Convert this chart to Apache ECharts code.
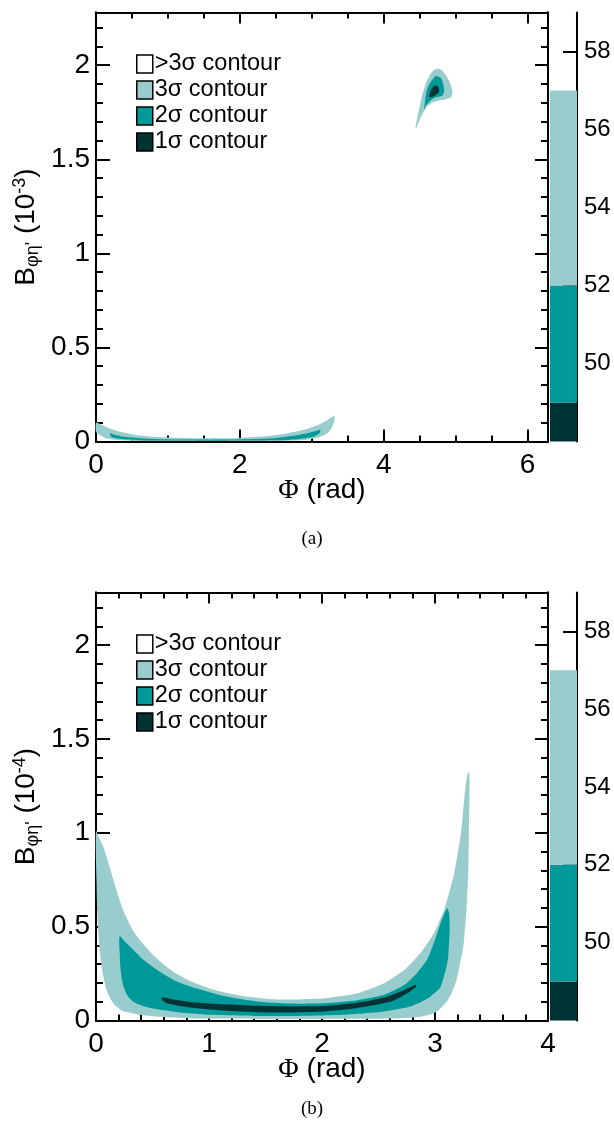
<!DOCTYPE html>
<html><head><meta charset="utf-8">
<script src="https://cdn.jsdelivr.net/npm/echarts@6/dist/echarts.min.js"></script>
<style>html,body{margin:0;padding:0;background:#fff}#c{width:614px;height:1128px}</style>
</head><body><div id="c"></div>
<script>
// ---------------- data ----------------
const legendNames = ['>3σ contour', '3σ contour', '2σ contour', '1σ contour'];
const colWhite = '#ffffff', colLight = '#99cccc', colTeal = '#009999', colDark = '#003333';

// colour bar bands: [lower, upper]
const cbLower = [48, 49, 52];
const cbUpper = [49, 52, 57];
const cbMin = 48, cbMax = 59;
const cbTicks = [50, 52, 54, 56, 58];

// axis ticks
const xMaxA = 6.2832;
const xTicksA = [0, 2, 4, 6];
const xMinorA = [0.5, 1, 1.5, 2.5, 3, 3.5, 4.5, 5, 5.5];
const xMaxB = 4;
const xTicksB = [0, 1, 2, 3, 4];
const xMinorB = [0.2, 0.4, 0.6, 0.8, 1.2, 1.4, 1.6, 1.8, 2.2, 2.4, 2.6, 2.8, 3.2, 3.4, 3.6, 3.8];
const yMax = 2.28;
const yTicks = [0, 0.5, 1, 1.5, 2];
const yMinor = [0.1, 0.2, 0.3, 0.4, 0.6, 0.7, 0.8, 0.9, 1.1, 1.2, 1.3, 1.4, 1.6, 1.7, 1.8, 1.9, 2.1, 2.2];

// (a) contours, x in rad, y in 1e-3
const lightPeakA = [[4.44,1.665],[4.47,1.73],[4.50,1.78],[4.535,1.84],[4.57,1.885],[4.61,1.925],[4.64,1.948],[4.69,1.972],[4.73,1.98],[4.77,1.98],[4.80,1.975],[4.84,1.96],[4.87,1.942],[4.905,1.92],[4.93,1.897],[4.95,1.87],[4.955,1.845],[4.93,1.828],[4.85,1.818],[4.76,1.812],[4.66,1.798],[4.6,1.78],[4.57,1.762],[4.53,1.735],[4.50,1.71],[4.47,1.685],[4.455,1.668]];
const tealPeakA = [[4.56,1.765],[4.575,1.81],[4.59,1.853],[4.62,1.89],[4.66,1.915],[4.70,1.935],[4.73,1.942],[4.79,1.933],[4.815,1.915],[4.83,1.895],[4.84,1.862],[4.82,1.842],[4.80,1.836],[4.71,1.827],[4.66,1.815],[4.62,1.80],[4.58,1.78]];
const darkPeakA = [[4.63,1.832],[4.645,1.855],[4.66,1.871],[4.69,1.888],[4.71,1.892],[4.745,1.89],[4.76,1.885],[4.772,1.862],[4.75,1.848],[4.73,1.844],[4.67,1.83]];
const lightBandA = [[0,0.1],[0.08,0.088],[0.2,0.068],[0.35,0.05],[0.55,0.035],[0.8,0.025],[1.2,0.019],[1.6,0.017],[2.0,0.019],[2.3,0.026],[2.55,0.036],[2.75,0.05],[2.95,0.068],[3.1,0.09],[3.2,0.11],[3.28,0.13],[3.315,0.138],[3.31,0.105],[3.28,0.075],[3.22,0.045],[3.1,0.022],[2.9,0.008],[2.6,0.003],[1.6,0.002],[0.6,0.003],[0.3,0.007],[0.15,0.016],[0.05,0.035],[0,0.05]];
const tealBandA = [[0.19,0.045],[0.25,0.036],[0.4,0.025],[0.6,0.017],[0.9,0.012],[1.3,0.01],[1.8,0.01],[2.2,0.013],[2.5,0.019],[2.75,0.03],[2.95,0.045],[3.08,0.058],[3.12,0.062],[3.11,0.045],[3.02,0.025],[2.8,0.012],[2.5,0.006],[1.8,0.004],[1.0,0.005],[0.6,0.007],[0.35,0.013],[0.22,0.022],[0.2,0.035]];

// (b) contours, x in rad, y in 1e-4
const lightB = [[0,1.01],[0.03,0.97],[0.065,0.926],[0.124,0.81],[0.183,0.69],[0.242,0.585],[0.331,0.475],[0.42,0.405],[0.538,0.33],[0.686,0.258],[0.834,0.21],[1.0,0.172],[1.13,0.15],[1.3,0.13],[1.425,0.121],[1.6,0.112],[1.8,0.112],[2.02,0.118],[2.31,0.145],[2.55,0.199],[2.73,0.27],[2.87,0.358],[2.99,0.465],[3.08,0.589],[3.17,0.784],[3.23,1.0],[3.27,1.245],[3.29,1.316],[3.305,1.32],[3.305,1.2],[3.30,1.0],[3.295,0.8],[3.28,0.6],[3.26,0.45],[3.25,0.39],[3.22,0.3],[3.19,0.216],[3.15,0.15],[3.11,0.106],[3.05,0.065],[2.99,0.039],[2.85,0.018],[2.6,0.01],[2.0,0.008],[1.4,0.008],[0.9,0.01],[0.54,0.02],[0.39,0.03],[0.24,0.05],[0.17,0.08],[0.124,0.12],[0.09,0.17],[0.06,0.25],[0.035,0.36],[0.02,0.48],[0.01,0.6],[0.004,0.75],[0,0.85]];
const tealB = [[0.21,0.45],[0.242,0.429],[0.331,0.376],[0.42,0.323],[0.538,0.27],[0.686,0.216],[0.834,0.181],[1.0,0.152],[1.13,0.13],[1.3,0.112],[1.5,0.097],[1.72,0.09],[2.02,0.092],[2.31,0.108],[2.55,0.137],[2.73,0.19],[2.84,0.252],[2.93,0.323],[3.0,0.43],[3.05,0.518],[3.09,0.58],[3.11,0.598],[3.125,0.57],[3.13,0.5],[3.125,0.42],[3.115,0.33],[3.095,0.27],[3.07,0.216],[3.04,0.17],[2.96,0.128],[2.88,0.1],[2.78,0.074],[2.62,0.055],[2.46,0.042],[2.2,0.03],[1.8,0.024],[1.4,0.024],[1.0,0.03],[0.83,0.038],[0.6,0.055],[0.47,0.068],[0.38,0.085],[0.33,0.1],[0.28,0.13],[0.25,0.17],[0.23,0.216],[0.215,0.29],[0.21,0.36],[0.205,0.42]];
const darkB = [[0.583,0.124],[0.7,0.11],[0.834,0.099],[1.13,0.086],[1.425,0.078],[1.72,0.075],[2.016,0.077],[2.31,0.094],[2.55,0.122],[2.73,0.163],[2.83,0.19],[2.835,0.181],[2.755,0.145],[2.61,0.101],[2.31,0.066],[2.016,0.048],[1.72,0.043],[1.425,0.044],[1.13,0.053],[0.834,0.069],[0.627,0.092],[0.583,0.11]];

// ---------------- chart ----------------
const FONT = "'Liberation Sans', Arial, Helvetica, sans-serif";
const BLACK = '#000';
const FS = 28;

function xAx(gi, pos, max, ticks, len, labels, name) {
  return {
    type: 'value', gridIndex: gi, position: pos, min: 0, max: max,
    axisLine: {show: true, onZero: false, lineStyle: {color: BLACK, width: 2}},
    axisTick: {show: true, inside: true, length: len, customValues: ticks, lineStyle: {color: BLACK, width: 2}},
    axisLabel: labels ? {show: true, customValues: ticks, fontSize: FS, color: BLACK, fontFamily: FONT, margin: 10} : {show: false},
    splitLine: {show: false}, minorTick: {show: false},
    name: name ? '{phi|Φ} (rad)' : '', nameLocation: 'middle', nameGap: 35, nameMoveOverlap: false,
    nameTextStyle: {fontSize: FS, color: BLACK, fontFamily: FONT,
      rich: {phi: {fontSize: FS, fontFamily: "'Liberation Serif', serif", color: BLACK}}}
  };
}
function yAx(gi, pos, ticks, len, labels, exp) {
  return {
    type: 'value', gridIndex: gi, position: pos, min: 0, max: yMax,
    axisLine: {show: true, onZero: false, lineStyle: {color: BLACK, width: 2}},
    axisTick: {show: true, inside: true, length: len, customValues: ticks, lineStyle: {color: BLACK, width: 2}},
    axisLabel: labels ? {show: true, customValues: ticks, fontSize: FS, color: BLACK, fontFamily: FONT, margin: 6} : {show: false},
    splitLine: {show: false}, minorTick: {show: false},
    name: exp ? '{b|B}{s|φη\'}{b| (10}{p|' + exp + '}{b|)}' : '',
    nameLocation: 'middle', nameRotate: 90, nameGap: 54, nameMoveOverlap: false,
    nameTextStyle: {color: BLACK, fontFamily: FONT, rich: {
      b: {fontSize: FS, color: BLACK, fontFamily: FONT},
      s: {fontSize: 18, color: BLACK, fontFamily: FONT, padding: [13, 0, 0, 0]},
      p: {fontSize: 18, color: BLACK, fontFamily: FONT, padding: [0, 0, 13, 0]}
    }}
  };
}
function cbY(gi) {
  return {
    type: 'value', gridIndex: gi, position: 'right', min: cbMin, max: cbMax,
    axisLine: {show: true, onZero: false, lineStyle: {color: BLACK, width: 2}},
    axisTick: {show: true, inside: true, length: 14, customValues: cbTicks, lineStyle: {color: BLACK, width: 2}},
    axisLabel: {show: true, customValues: cbTicks, fontSize: 24, color: BLACK, fontFamily: FONT, margin: 7},
    splitLine: {show: false}
  };
}
function cbX(gi) {
  return {type: 'value', gridIndex: gi, min: 0, max: 1, show: false, axisLine: {onZero: false}};
}

function poly(name, pts, color, xi, yi) {
  return {
    type: 'custom', name: name, coordinateSystem: 'cartesian2d', xAxisIndex: xi, yAxisIndex: yi,
    data: pts, itemStyle: {color: color}, silent: true, animation: false,
    renderItem: function (params, api) {
      if (params.dataIndex !== 0) return null;
      const points = pts.map(function (p) { return api.coord(p); });
      return {type: 'polygon', shape: {points: points, smooth: 0.2}, style: {fill: color}};
    }
  };
}
function colorBar(xi, yi) {
  const colors = [colDark, colTeal, colLight];
  const data = cbLower.map(function (lo, i) { return [lo, cbUpper[i]]; });
  return {
    type: 'custom', coordinateSystem: 'cartesian2d', xAxisIndex: xi, yAxisIndex: yi, silent: true,
    data: data, animation: false,
    renderItem: function (params, api) {
      const p0 = api.coord([0, api.value(0)]);
      const p1 = api.coord([1, api.value(1)]);
      return {type: 'rect', shape: {x: p0[0], y: p1[1], width: p1[0] - p0[0], height: p0[1] - p1[1]},
        style: {fill: colors[params.dataIndex]}};
    }
  };
}

const gA = {left: 96, top: 12.5, width: 452, height: 429};
const gB = {left: 96, top: 592.5, width: 452, height: 428};

function legend(top) {
  return {
    data: legendNames, orient: 'vertical', left: 136, top: top, padding: 0,
    itemWidth: 16, itemHeight: 18, itemGap: 2, icon: 'rect', selectedMode: false,
    itemStyle: {borderColor: BLACK, borderWidth: 1.5},
    textStyle: {fontSize: 23.5, color: BLACK, fontFamily: FONT, padding: [0, 0, 0, -3]}
  };
}

const option = {
  animation: false,
  backgroundColor: '#fff',
  title: [
    {text: '(a)', left: 307, top: 525, textAlign: 'center', textStyle: {fontSize: 19, fontWeight: 'normal', color: BLACK, fontFamily: "'Liberation Serif', serif"}},
    {text: '(b)', left: 307, top: 1095, textAlign: 'center', textStyle: {fontSize: 19, fontWeight: 'normal', color: BLACK, fontFamily: "'Liberation Serif', serif"}}
  ],
  legend: [legend(52), legend(632)],
  grid: [
    gA, gB,
    {left: 550, top: gA.top, width: 27, height: gA.height},
    {left: 550, top: gB.top, width: 27, height: gB.height}
  ],
  xAxis: [
    xAx(0, 'bottom', xMaxA, xTicksA, 12, true, true),
    xAx(0, 'bottom', xMaxA, xMinorA, 6, false, false),
    xAx(0, 'top', xMaxA, xTicksA, 11, false, false),
    xAx(0, 'top', xMaxA, xMinorA, 6, false, false),
    xAx(1, 'bottom', xMaxB, xTicksB, 12, true, true),
    xAx(1, 'bottom', xMaxB, xMinorB, 6, false, false),
    xAx(1, 'top', xMaxB, xTicksB, 11, false, false),
    xAx(1, 'top', xMaxB, xMinorB, 6, false, false),
    cbX(2), cbX(3)
  ],
  yAxis: [
    yAx(0, 'left', yTicks, 14, true, '-3'),
    yAx(0, 'left', yMinor, 7, false, null),
    yAx(0, 'right', yTicks, 13, false, null),
    yAx(0, 'right', yMinor, 7, false, null),
    yAx(1, 'left', yTicks, 14, true, '-4'),
    yAx(1, 'left', yMinor, 7, false, null),
    yAx(1, 'right', yTicks, 13, false, null),
    yAx(1, 'right', yMinor, 7, false, null),
    cbY(2), cbY(3)
  ],
  series: [
    poly('>3σ contour', [], colWhite, 0, 0),
    poly('3σ contour', lightPeakA, colLight, 0, 0),
    poly('3σ contour', lightBandA, colLight, 0, 0),
    poly('2σ contour', tealPeakA, colTeal, 0, 0),
    poly('2σ contour', tealBandA, colTeal, 0, 0),
    poly('1σ contour', darkPeakA, colDark, 0, 0),
    poly('3σ contour', lightB, colLight, 4, 4),
    poly('2σ contour', tealB, colTeal, 4, 4),
    poly('1σ contour', darkB, colDark, 4, 4),
    colorBar(8, 8),
    colorBar(9, 9)
  ]
};

const chart = echarts.init(document.getElementById('c'), null, {renderer: 'canvas'});
chart.setOption(option);
</script>
</body></html>
